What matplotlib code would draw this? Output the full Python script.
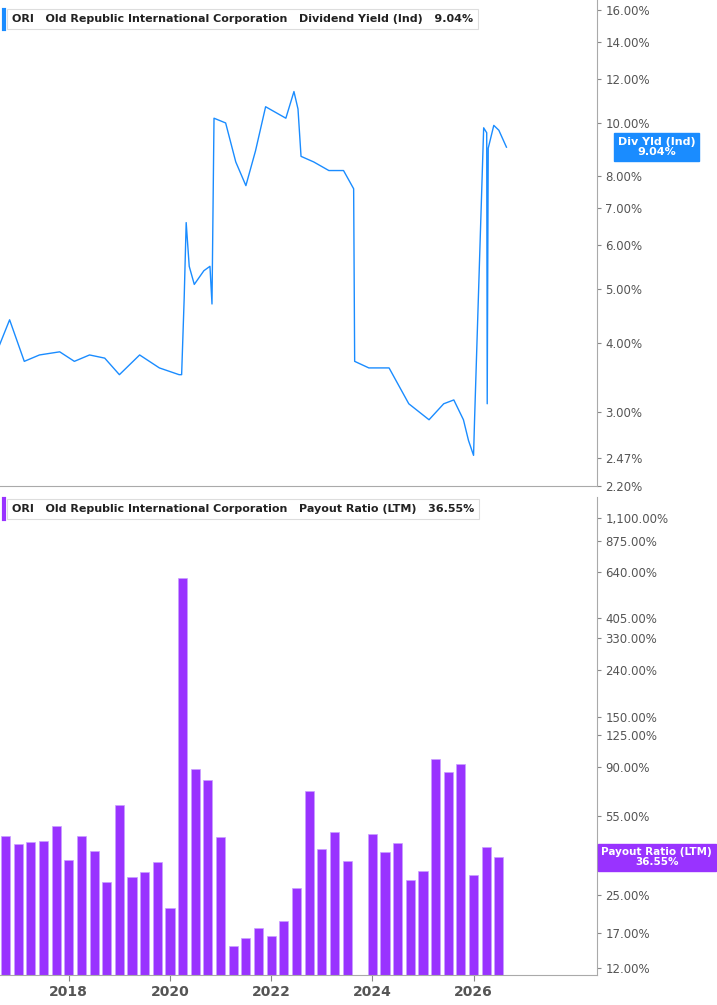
import matplotlib
matplotlib.use("Agg")
import matplotlib.pyplot as plt
from matplotlib.ticker import FixedLocator, NullLocator

# Dividend yield (%) (decimal year, value)
yield_x = [2016.63, 2016.83, 2017.12, 2017.42, 2017.82, 2018.11, 2018.41, 2018.71, 2019.00,
           2019.40, 2019.79, 2020.18, 2020.23, 2020.28, 2020.32, 2020.38, 2020.48, 2020.67,
           2020.79, 2020.83, 2020.87, 2021.10, 2021.30, 2021.50, 2021.69, 2021.89, 2022.29,
           2022.45, 2022.53, 2022.59, 2022.84, 2023.14, 2023.43, 2023.63, 2023.65, 2023.93,
           2024.33, 2024.72, 2025.12, 2025.41, 2025.61, 2025.80, 2025.90, 2026.00, 2026.02,
           2026.20, 2026.26, 2026.27, 2026.29, 2026.40, 2026.50, 2026.65]
yield_v = [3.96, 4.4, 3.7, 3.8, 3.85, 3.7, 3.8, 3.75, 3.5,
           3.8, 3.6, 3.5, 3.5, 4.8, 6.6, 5.5, 5.1, 5.4,
           5.5, 4.7, 10.2, 10.0, 8.5, 7.7, 8.9, 10.7, 10.2,
           11.4, 10.6, 8.7, 8.5, 8.2, 8.2, 7.6, 3.7, 3.6,
           3.6, 3.1, 2.9, 3.1, 3.15, 2.9, 2.66, 2.5, 2.9,
           9.8, 9.6, 3.1, 9.0, 9.9, 9.7, 9.04]

# Payout ratio (LTM, %) quarterly
payout_x = [2016.75 + 0.25 * i for i in range(40)]
payout_v = [45, 41.7, 42.6, 43, 50, 35.5, 45, 39, 28.5, 61.8,
            30, 31.6, 35, 22, 605, 89, 79, 44.7, 15, 16.2,
            18, 16.6, 19.2, 26.8, 71, 39.6, 47, 35.1, None, 46,
            38.5, 42, 29, 31.8, 98, 86, 93, 30.6, 40.4, 36.55]

top_ticks = [2.2, 2.47, 3, 4, 5, 6, 7, 8, 10, 12, 14, 16]
bot_ticks = [12, 17, 25, 55, 90, 125, 150, 240, 330, 405, 640, 875, 1100]
year_ticks = [2018, 2020, 2022, 2024, 2026]

BLUE = "#1a8cff"
PURPLE = "#9933ff"
GREY = "#555555"

fig = plt.figure(figsize=(7.17, 10.05), dpi=100)
W, H = 717, 1005

def pos(l, t, r, b):
    return [l / W, 1 - b / H, (r - l) / W, (b - t) / H]

ax1 = fig.add_axes(pos(0, 0, 597, 486))
ax2 = fig.add_axes(pos(0, 497, 597, 975))

for ax in (ax1, ax2):
    ax.set_yscale("log")
    ax.set_xlim(2016.64, 2028.44)
    ax.yaxis.tick_right()
    ax.yaxis.set_minor_locator(NullLocator())
    for s in ("top", "left"):
        ax.spines[s].set_visible(False)
    for s in ("right", "bottom"):
        ax.spines[s].set_color("#aaaaaa")
    ax.tick_params(axis="y", length=3, color="#888888", labelsize=8.5, labelcolor=GREY, pad=3)

ax1.plot(yield_x, yield_v, color=BLUE, lw=1.0)
ax1.set_ylim(2.2, 16.7)
ax1.yaxis.set_major_locator(FixedLocator(top_ticks))
ax1.set_yticklabels([f"{t:.2f}%" for t in top_ticks])
ax1.set_xticks([])

bx = [x for x, v in zip(payout_x, payout_v) if v is not None]
bv = [v for v in payout_v if v is not None]
ax2.bar(bx, bv, width=0.18, color=PURPLE, edgecolor="#c9a0ff", linewidth=0.5)
ax2.set_ylim(11.2, 1360)
ax2.yaxis.set_major_locator(FixedLocator(bot_ticks))
ax2.set_yticklabels([f"{t:,.2f}%" for t in bot_ticks])
ax2.set_xticks(year_ticks)
ax2.set_xticklabels([str(y) for y in year_ticks], fontsize=10, fontweight="bold", color=GREY)
ax2.tick_params(axis="x", length=4, color="#888888")

def legend(ax, y, color, label):
    ax.text(0.02, y, f"ORI   Old Republic International Corporation   {label}",
            transform=ax.transAxes, fontsize=8, fontweight="bold", color="#222222",
            va="center", ha="left",
            bbox=dict(boxstyle="square,pad=0.45", fc="white", ec="#dddddd", lw=0.8))
    ax.plot([0.006, 0.006], [y - 0.02, y + 0.02], transform=ax.transAxes, color=color,
            lw=3, clip_on=False)

legend(ax1, 0.96, BLUE, "Dividend Yield (Ind)   9.04%")
legend(ax2, 0.975, PURPLE, "Payout Ratio (LTM)   36.55%")

ax1.text(1.1, 9.04, "Div Yld (Ind)\n9.04%", transform=ax1.get_yaxis_transform(),
         fontsize=8, fontweight="bold", color="white", ha="center", va="center",
         linespacing=1.0, bbox=dict(boxstyle="square,pad=0.35", fc=BLUE, ec=BLUE))
ax2.text(1.1, 36.55, "Payout Ratio (LTM)\n36.55%", transform=ax2.get_yaxis_transform(),
         fontsize=7.5, fontweight="bold", color="white", ha="center", va="center",
         linespacing=1.0, bbox=dict(boxstyle="square,pad=0.35", fc=PURPLE, ec=PURPLE))

fig.savefig("out.png", dpi=100)
